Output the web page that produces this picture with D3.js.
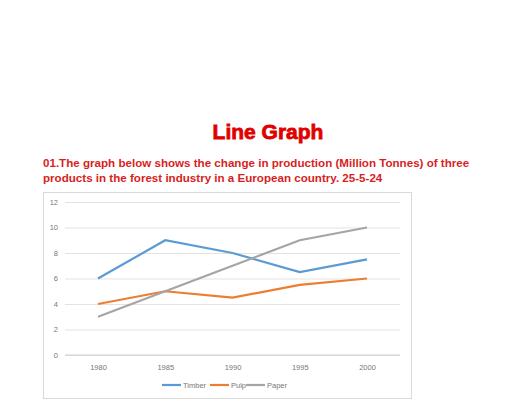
<!DOCTYPE html><html><head><meta charset="utf-8">
<script src="https://cdn.jsdelivr.net/npm/d3@7"></script>
<style>body{margin:0;background:#fff}</style></head><body>
<svg id="c" width="512" height="404"></svg>
<script>
const years=["1980","1985","1990","1995","2000"];
const timber=[6,9,8,6.5,7.5];
const pulp=[4,5,4.5,5.5,6];
const paper=[3,5,7,9,10];
const yTicks=[0,2,4,6,8,10,12];
const seriesNames=["Timber","Pulp","Paper"];
const colors=["#5b9bd5","#ed7d31","#a5a5a5"];
const svg=d3.select("#c");
svg.append("text").attr("x",268).attr("y",139).attr("text-anchor","middle")
 .attr("font-family","Liberation Sans, Arial").attr("font-weight","bold").attr("font-size",21)
 .attr("fill","#e00000").attr("stroke","#e00000").attr("stroke-width",0.8).text("Line Graph");
const sub=["01.The graph below shows the change in production (Million Tonnes) of three","products in the forest industry in a European country. 25-5-24"];
sub.forEach((s,i)=>svg.append("text").attr("x",43).attr("y",167+i*15)
 .attr("font-family","Liberation Sans, Arial").attr("font-weight","bold").attr("font-size",11.6)
 .attr("fill","#d81e1e").text(s));
svg.append("rect").attr("x",43.5).attr("y",192.5).attr("width",368).attr("height",206)
 .attr("fill","#fff").attr("stroke","#d9d9d9");
const x=d3.scalePoint().domain(years).range([98,367]);
const y=d3.scaleLinear().domain([0,12]).range([355,202]);
const ga=svg.append("g").attr("transform","translate(65,0)")
 .call(d3.axisLeft(y).tickValues(yTicks).tickSize(-335).tickPadding(7));
ga.select(".domain").remove();
ga.selectAll("line").attr("stroke","#e3e3e3");
ga.selectAll("text").attr("fill","#777").attr("font-size",7.5).attr("font-family","Liberation Sans, Arial");
const gx=svg.append("g").attr("transform","translate(0,355)").call(d3.axisBottom(x).tickSize(0).tickPadding(10));
gx.select(".domain").attr("stroke","#d0d0d0").attr("d","M65,0H400");
gx.selectAll("text").attr("fill","#777").attr("font-size",7.5).attr("font-family","Liberation Sans, Arial");
const line=d3.line().x((d,i)=>x(years[i])).y(d=>y(d));
[timber,pulp,paper].forEach((s,k)=>svg.append("path").attr("d",line(s)).attr("fill","none")
 .attr("stroke",colors[k]).attr("stroke-width",2.2));
const lx=[162,210,246];
seriesNames.forEach((n,k)=>{
 svg.append("line").attr("x1",lx[k]).attr("x2",lx[k]+19).attr("y1",385).attr("y2",385).attr("stroke",colors[k]).attr("stroke-width",2.2);
 svg.append("text").attr("x",lx[k]+21).attr("y",388).attr("font-size",7.5).attr("fill","#777")
  .attr("font-family","Liberation Sans, Arial").text(n);
});
</script></body></html>
